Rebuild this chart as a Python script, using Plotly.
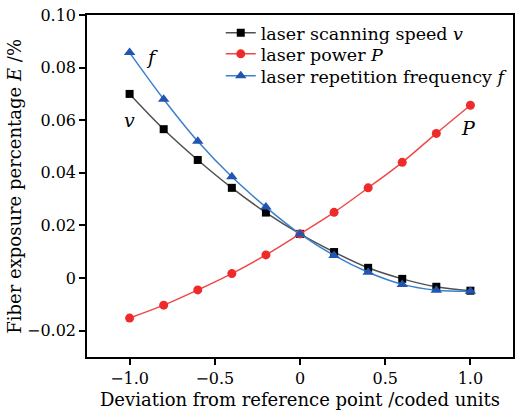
import plotly.graph_objects as go

x = [-1.0, -0.8, -0.6, -0.4, -0.2, 0.0, 0.2, 0.4, 0.6, 0.8, 1.0]
v_vals = [0.070, 0.0566, 0.0449, 0.0343, 0.0249, 0.0168, 0.0099, 0.0039, -0.0003, -0.0033, -0.0048]
p_vals = [-0.0152, -0.0103, -0.0045, 0.0017, 0.0088, 0.0168, 0.025, 0.0343, 0.044, 0.055, 0.0657]
f_vals = [0.0857, 0.068, 0.052, 0.0385, 0.027, 0.0168, 0.0086, 0.0022, -0.0024, -0.0046, -0.005]

xtick_vals = [-1.0, -0.5, 0, 0.5, 1.0]
xtick_text = ["\u22121.0", "\u22120.5", "0", "0.5", "1.0"]
ytick_vals = [-0.02, 0, 0.02, 0.04, 0.06, 0.08, 0.10]
ytick_text = ["\u22120.02", "0", "0.02", "0.04", "0.06", "0.08", "0.10"]

FONT = "DejaVu Serif"

fig = go.Figure()
fig.add_trace(go.Scatter(
    x=x, y=v_vals, mode="lines+markers", name="laser scanning speed <i>v</i>",
    line=dict(color="#505050", width=1.5, shape="spline"),
    marker=dict(symbol="square", size=8, color="black"), legend="legend", showlegend=True))
fig.add_trace(go.Scatter(
    x=x, y=p_vals, mode="lines+markers", name="laser power <i>P</i>",
    line=dict(color="#f04848", width=1.5, shape="spline"),
    marker=dict(symbol="circle", size=9, color="#ee2a2a"), legend="legend2", showlegend=True))
fig.add_trace(go.Scatter(
    x=x, y=f_vals, mode="lines+markers", name="laser repetition frequency <i>f</i>",
    line=dict(color="#3a80d0", width=1.5, shape="spline"),
    marker=dict(symbol="triangle-up", size=10, color="#2255b0"), legend="legend3", showlegend=True))

annots = [
    dict(x=-0.87, y=0.084, text="<i>f</i>"),
    dict(x=-1.0, y=0.060, text="<i>v</i>"),
    dict(x=0.99, y=0.057, text="<i>P</i>"),
]
for a in annots:
    fig.add_annotation(x=a["x"], y=a["y"], text=a["text"], showarrow=False,
                       font=dict(family=FONT, size=19, color="black"))

# y-axis title placed as rotated text
fig.add_annotation(xref="paper", yref="paper", x=-0.172, y=0.5,
                   text="Fiber exposure percentage <i>E</i> /%", textangle=-90,
                   showarrow=False, xanchor="center", yanchor="middle",
                   font=dict(family=FONT, size=18, color="black"))

axis_common = dict(showline=True, linecolor="black", linewidth=1.5, mirror=True,
                   ticks="outside", ticklen=6, tickwidth=1.5, tickcolor="black",
                   showgrid=False, zeroline=False,
                   tickfont=dict(family=FONT, size=16, color="black"))

fig.update_xaxes(range=[-1.25, 1.25], tickvals=xtick_vals, ticktext=xtick_text,
                 title=dict(text="Deviation from reference point /coded units",
                            font=dict(family=FONT, size=18, color="black"), standoff=6),
                 **axis_common)
fig.update_yaxes(range=[-0.03, 0.10], tickvals=ytick_vals, ticktext=ytick_text,
                 **axis_common)

leg_common = dict(x=0.314, xanchor="left", yanchor="middle",
                  bgcolor="rgba(0,0,0,0)", borderwidth=0, visible=True,
                  font=dict(family=FONT, size=17.5, color="black"), itemwidth=30)

fig.update_layout(
    width=521, height=415,
    margin=dict(l=87, r=6, t=14, b=58),
    paper_bgcolor="white", plot_bgcolor="white",
    font=dict(family=FONT, size=17, color="black"),
    showlegend=True,
    legend=dict(y=0.9475, **leg_common),
    legend2=dict(y=0.886, **leg_common),
    legend3=dict(y=0.822, **leg_common),
)

fig.write_html("out.html")
